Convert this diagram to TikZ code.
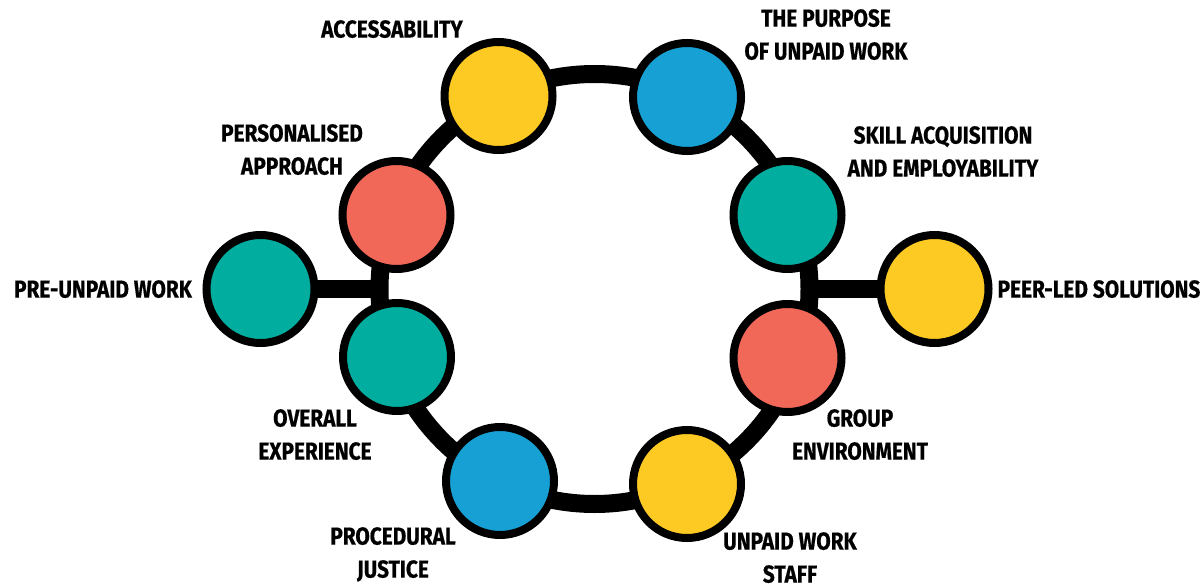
\documentclass[tikz,border=0pt]{standalone}
\usepackage{fontspec}
\newfontfamily\labelfont[FakeStretch=0.85,FakeBold=0.6]{Fira Sans Bold}
\definecolor{sunyellow}{RGB}{253,201,35}
\definecolor{skyblue}{RGB}{22,160,211}
\definecolor{seateal}{RGB}{0,173,159}
\definecolor{coral}{RGB}{241,103,88}
\pgfdeclarelayer{paper}
\pgfdeclarelayer{links}
\pgfsetlayers{paper,links,main}
\begin{document}
\begin{tikzpicture}[x=1pt,y=-1pt,
  ball/.style={circle, draw=black, line width=8pt, minimum size=108pt, inner sep=0pt, outer sep=0pt},
  bar/.style={draw=black, line width=18pt},
  lbl/.style={font=\labelfont\fontsize{24.5}{33}\selectfont, align=center, inner sep=0pt, anchor=north}]
\begin{pgfonlayer}{paper}
\useasboundingbox[fill=white] (0,0) rectangle (1204,581);
\end{pgfonlayer}

% circles on the ring and the two side branches
\node[ball, fill=sunyellow] (acc) at (498.5,96) {};
\node[ball, fill=skyblue]   (pur) at (687,97) {};
\node[ball, fill=coral]     (per) at (396.5,215) {};
\node[ball, fill=seateal]   (ski) at (787.5,215) {};
\node[ball, fill=seateal]   (pre) at (260.5,289) {};
\node[ball, fill=sunyellow] (peer) at (934.5,289) {};
\node[ball, fill=seateal]   (ove) at (397,357) {};
\node[ball, fill=coral]     (grp) at (787.5,358) {};
\node[ball, fill=skyblue]   (pro) at (500,481) {};
\node[ball, fill=sunyellow] (stf) at (687,484) {};

% the main ring and the branches, drawn beneath the circles
\begin{pgfonlayer}{links}
\node[circle, draw=black, line width=18pt, minimum size=430pt, inner sep=0pt, outer sep=0pt] (ring) at (594.5,289) {};
\draw[bar] (pre) -- (ring.west);
\draw[bar] (peer) -- (ring.east);
\end{pgfonlayer}

% labels
\node[lbl] (tacc) at (392,20) {ACCESSABILITY};
\node[lbl] (tpur) at (826,9) {THE PURPOSE\\OF UNPAID WORK};
\node[lbl] (tski) at (943,126) {SKILL ACQUISITION\\AND EMPLOYABILITY};
\node[lbl] (tper) at (292,124) {PERSONALISED\\APPROACH};
\node[lbl] (tpre) at (103,280) {PRE-UNPAID WORK};
\node[lbl] (tpeer) at (1099,280) {PEER-LED SOLUTIONS};
\node[lbl] (tove) at (315,409) {OVERALL\\EXPERIENCE};
\node[lbl] (tgrp) at (860,409) {GROUP\\ENVIRONMENT};
\node[lbl] (tpro) at (393,527) {PROCEDURAL\\JUSTICE};
\node[lbl] (tstf) at (790,532) {UNPAID WORK\\STAFF};
\end{tikzpicture}
\end{document}
